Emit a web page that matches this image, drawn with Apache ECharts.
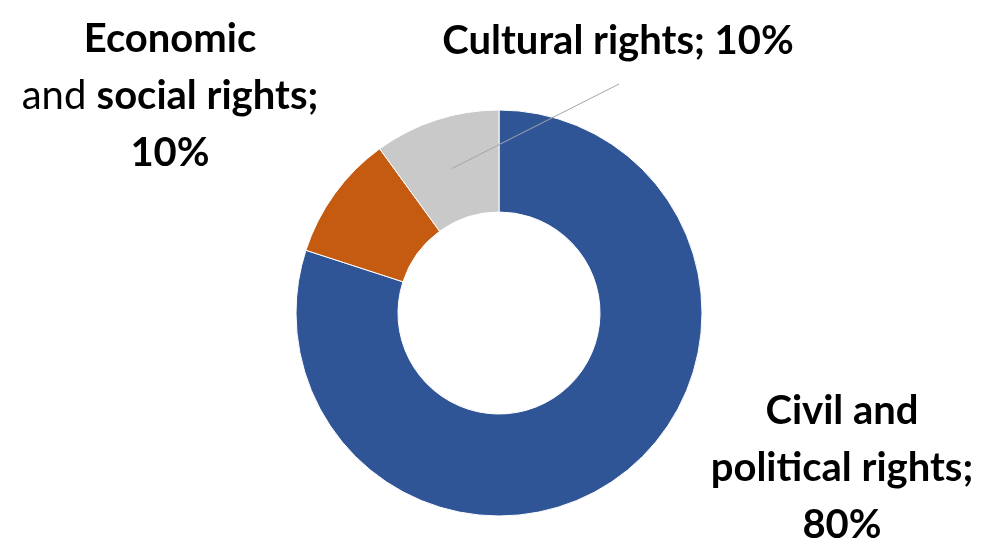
<!DOCTYPE html>
<html><head><meta charset="utf-8">
<script src="https://cdn.jsdelivr.net/npm/echarts@6/dist/echarts.min.js"></script>
<style>html,body{margin:0;padding:0;background:#fff}#c{width:985px;height:540px}</style>
</head><body><div id="c"></div>
<script>
// ---- data ----
const categories = ['Civil and political rights', 'Economic and social rights', 'Cultural rights'];
const values = [80, 10, 10];
const colors = ['#2F5597', '#C55A11', '#C9C9C9'];
// rich-text label templates ({P} = percentage computed by the library)
const labelTemplates = [
  '{b|Civil and}\n{b|political rights;}\n{b|{P}%}',
  '{b|Economic}\n{n|and }{b|social rights;}\n{b|{P}%}',
  '{b|Cultural rights; {P}%}'
];
const showLeader = [false, false, true];

// ---- layout ----
const center = [499, 313];
const labelCenters = [[842, 468], [170, 96], [618, 41]];

const chart = echarts.init(document.getElementById('c'));
const FONT = 'Lato, "Open Sans", sans-serif';
const rich = {
  b: { fontFamily: FONT, fontWeight: 'bold', fontSize: 40, color: '#000', lineHeight: 57 },
  n: { fontFamily: FONT, fontWeight: 'normal', fontSize: 40, color: '#000', lineHeight: 57 }
};

chart.setOption({
  animation: false,
  backgroundColor: '#fff',
  series: [
    {
      type: 'pie',
      center: center,
      radius: [101, 203],
      startAngle: 90,
      clockwise: true,
      silent: true,
      label: { show: false },
      labelLine: { show: false },
      itemStyle: { borderColor: '#fff', borderWidth: 1 },
      data: categories.map((c, i) => ({ name: c, value: values[i], itemStyle: { color: colors[i] } }))
    },
    {
      // invisible overlay used only to carry the labels (leader starts mid-ring)
      type: 'pie',
      center: center,
      radius: [0, 152],
      startAngle: 90,
      clockwise: true,
      silent: true,
      z: 5,
      avoidLabelOverlap: false,
      itemStyle: { color: 'rgba(0,0,0,0)' },
      label: {
        show: true,
        position: 'outside',
        overflow: 'none',
        rich: rich,
        formatter: p => labelTemplates[p.dataIndex].replace('{P}', Math.round(p.percent))
      },
      labelLine: { show: true, length: 10, length2: 10, lineStyle: { color: '#A6A6A6', width: 1 } },
      labelLayout: function (params) {
        const i = params.dataIndex;
        const pos = labelCenters[i];
        const out = { x: pos[0], y: pos[1], align: 'center', verticalAlign: 'middle', hideOverlap: false };
        if (showLeader[i] && params.labelLinePoints) {
          const s = params.labelLinePoints[0];
          const e = [pos[0] + 1, pos[1] + 43];
          out.labelLinePoints = [s, e, e];
        }
        return out;
      },
      data: categories.map((c, i) => ({
        name: c, value: values[i],
        labelLine: { show: showLeader[i] }
      }))
    }
  ]
});
</script></body></html>
